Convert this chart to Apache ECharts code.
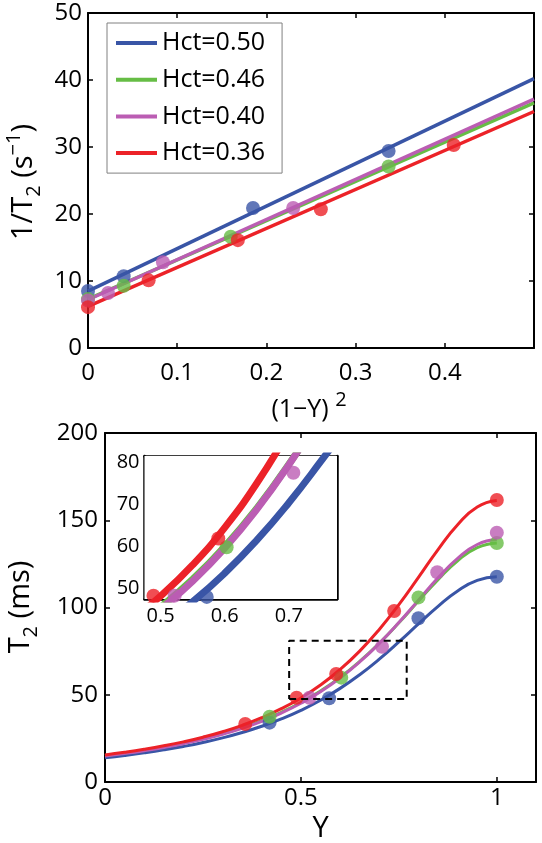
<!DOCTYPE html>
<html><head><meta charset="utf-8">
<script src="https://cdn.jsdelivr.net/npm/echarts@6/dist/echarts.min.js"></script>
<style>html,body{margin:0;padding:0;background:#fff}#c{width:542px;height:843px}</style>
</head><body><div id="c"></div>
<script>
const seriesNames = ['Hct=0.50', 'Hct=0.46', 'Hct=0.40', 'Hct=0.36'];
const colors = ['#3955a6', '#66bd45', '#bb5db3', '#ec2228'];

// ---- top panel: 1/T2 (s^-1) vs (1-Y)^2 ----
const fitX = [0, 0.5];
const fitBlue = [8.5, 40.2];
const fitGreen = [7.3, 36.6];
const fitPurple = [7.2, 37.15];
const fitRed = [6.2, 35.3];

const topBlue = [[0, 8.5], [0.040, 10.7], [0.185, 20.9], [0.337, 29.4]];
const topGreen = [[0, 7.3], [0.040, 9.3], [0.160, 16.6], [0.337, 27.1]];
const topPurple = [[0, 7.1], [0.0225, 8.2], [0.084, 12.8], [0.230, 20.9]];
const topRed = [[0, 6.1], [0.068, 10.1], [0.168, 16.1], [0.261, 20.7], [0.410, 30.3]];

// ---- bottom panel: T2 (ms) vs Y ----
const curveY = [0, 0.05, 0.1, 0.15, 0.2, 0.25, 0.3, 0.35, 0.4, 0.45, 0.5, 0.55, 0.6, 0.65, 0.7, 0.75, 0.8, 0.85, 0.9, 0.95, 1.0];
const curveBlue = [13.91, 15.22, 16.71, 18.41, 20.37, 22.64, 25.27, 28.34, 31.93, 36.13, 41.07, 46.86, 53.65, 61.48, 70.39, 80.26, 90.58, 100.7, 109.5, 115.5, 117.6];
const curveGreen = [15.17, 16.61, 18.26, 20.15, 22.32, 24.84, 27.77, 31.19, 35.21, 39.95, 45.56, 52.17, 59.96, 69.06, 79.53, 91.24, 103.7, 116.0, 126.8, 134.3, 137.0];
const curvePurple = [14.90, 16.32, 17.95, 19.81, 21.96, 24.46, 27.36, 30.76, 34.77, 39.49, 45.10, 51.73, 59.58, 68.79, 79.42, 91.37, 104.2, 117.0, 128.2, 136.1, 138.9];
const curveRed = [15.53, 17.03, 18.75, 20.73, 23.01, 25.68, 28.80, 32.48, 36.83, 42.00, 48.19, 55.59, 64.47, 75.02, 87.43, 101.65, 117.26, 133.2, 147.4, 157.6, 161.3];

const botBlue = [[0.42, 34.0], [0.572, 48.0], [0.80, 93.8], [1, 117.6]];
const botGreen = [[0.42, 37.4], [0.603, 59.8], [0.80, 105.8], [1, 137.0]];
const botPurple = [[0.522, 48.3], [0.707, 77.5], [0.848, 120.2], [1, 142.9]];
const botRed = [[0.358, 33.2], [0.489, 48.3], [0.59, 61.9], [0.738, 98.0], [1, 161.6]];

// zoom box (dashed) corners
const boxX = [0.47, 0.77, 0.77, 0.47, 0.47];
const boxY = [47.5, 47.5, 81, 81, 47.5];

// tick labels
const topXTicks = [0, 0.1, 0.2, 0.3, 0.4];
const topYTicks = [0, 10, 20, 30, 40, 50];
const botXTicks = [0, 0.5, 1];
const botYTicks = [0, 50, 100, 150, 200];
const insXTicks = [0.5, 0.6, 0.7];
const insYTicks = [50, 60, 70, 80];

const FONT = "'Open Sans', 'Liberation Sans', sans-serif";

function zip(xs, ys) { return xs.map((x, i) => [x, ys[i]]); }

function axis(grid, min, max, ticks, pos, showLabel, margin, fs, tickLen, lw) {
  return {
    type: 'value', gridIndex: grid, min: min, max: max, position: pos,
    axisLine: { show: true, onZero: false, lineStyle: { color: '#000', width: lw } },
    axisTick: { show: true, inside: true, length: tickLen, customValues: ticks, lineStyle: { color: '#000', width: 1.5 } },
    axisLabel: { show: showLabel, customValues: ticks, margin: margin, fontSize: fs, fontFamily: FONT, color: '#000' },
    splitLine: { show: false }
  };
}

const xAxes = [
  axis(0, 0, 0.5, topXTicks, 'bottom', true, 13, 24, 5, 2),
  axis(0, 0, 0.5, topXTicks, 'top', false, 0, 24, 5, 2),
  axis(1, 0, 1.1, botXTicks, 'bottom', true, 4, 24, 5, 2),
  axis(1, 0, 1.1, botXTicks, 'top', false, 0, 24, 5, 2),
  axis(2, 0.475, 0.775, insXTicks, 'bottom', true, 7, 20, 3, 2.5),
  axis(2, 0.475, 0.775, insXTicks, 'top', false, 0, 20, 3, 2.5)
];
const yAxes = [
  axis(0, 0, 50, topYTicks, 'left', true, 6, 24, 5, 2),
  axis(0, 0, 50, topYTicks, 'right', false, 0, 24, 5, 2),
  axis(1, 0, 200, botYTicks, 'left', true, 7, 24, 5, 2),
  axis(1, 0, 200, botYTicks, 'right', false, 0, 24, 5, 2),
  axis(2, 47.5, 81.5, insYTicks, 'left', true, 5, 20, 3, 2.5),
  axis(2, 47.5, 81.5, insYTicks, 'right', false, 0, 20, 3, 2.5)
];

const fits = [fitBlue, fitGreen, fitPurple, fitRed];
const topPts = [topBlue, topGreen, topPurple, topRed];
const curves = [curveBlue, curveGreen, curvePurple, curveRed];
const botPts = [botBlue, botGreen, botPurple, botRed];

const series = [];
for (let i = 0; i < 4; i++) {
  series.push({ type: 'line', name: seriesNames[i], xAxisIndex: 0, yAxisIndex: 0, data: zip(fitX, fits[i]),
    showSymbol: false, lineStyle: { color: colors[i], width: 3.5 }, itemStyle: { color: colors[i] }, z: 2 });
}
for (let i = 0; i < 4; i++) {
  series.push({ type: 'scatter', name: seriesNames[i], xAxisIndex: 0, yAxisIndex: 0, data: topPts[i],
    symbol: 'circle', symbolSize: 14, itemStyle: { color: colors[i] }, z: 3 });
}
for (let i = 0; i < 4; i++) {
  series.push({ type: 'line', name: seriesNames[i], xAxisIndex: 2, yAxisIndex: 2, data: zip(curveY, curves[i]),
    showSymbol: false, smooth: true, lineStyle: { color: colors[i], width: 3 }, itemStyle: { color: colors[i] }, z: 2 });
}
for (let i = 0; i < 4; i++) {
  series.push({ type: 'scatter', name: seriesNames[i], xAxisIndex: 2, yAxisIndex: 2, data: botPts[i],
    symbol: 'circle', symbolSize: 14, itemStyle: { color: colors[i] }, z: 3 });
}
series.push({ type: 'line', name: 'zoom', xAxisIndex: 2, yAxisIndex: 2, data: zip(boxX, boxY), showSymbol: false,
  lineStyle: { color: '#000', width: 2, type: [7, 5] }, z: 4 });
for (let i = 0; i < 4; i++) {
  series.push({ type: 'line', name: seriesNames[i], xAxisIndex: 4, yAxisIndex: 4, data: zip(curveY, curves[i]),
    showSymbol: false, smooth: true, clip: true, lineStyle: { color: colors[i], width: 7 }, itemStyle: { color: colors[i] }, z: 5 });
}
for (let i = 0; i < 4; i++) {
  series.push({ type: 'scatter', name: seriesNames[i], xAxisIndex: 4, yAxisIndex: 4, data: botPts[i], clip: true,
    symbol: 'circle', symbolSize: 14, itemStyle: { color: colors[i] }, z: 6 });
}

const richBase = { fontFamily: FONT, color: '#000' };
const chart = echarts.init(document.getElementById('c'), null, { renderer: 'canvas' });
chart.setOption({
  animation: false,
  backgroundColor: '#fff',
  grid: [
    { left: 88, top: 13, width: 446, height: 335, outerBoundsMode: 'none', containLabel: false },
    { left: 105, top: 433, width: 431, height: 349, outerBoundsMode: 'none', containLabel: false },
    { left: 144.5, top: 456, width: 192.5, height: 143, outerBoundsMode: 'none', containLabel: false, show: true, backgroundColor: '#fff', borderWidth: 0, z: 4 }
  ],
  xAxis: xAxes,
  yAxis: yAxes,
  legend: {
    data: seriesNames, orient: 'vertical', left: 107, top: 23, padding: [6, 17, 6, 9],
    itemGap: 8.7, itemWidth: 41, itemHeight: 4, icon: 'rect',
    borderColor: '#808080', borderWidth: 1, backgroundColor: '#fff', selectedMode: false,
    textStyle: { fontFamily: FONT, fontSize: 25, color: '#000', lineHeight: 28 }
  },
  graphic: [
    { type: 'text', x: 24, y: 182, rotation: Math.PI / 2, z: 10,
      style: { text: '{a|1/T}{b|2}{a| (s}{c|−1}{a|)}', align: 'center', verticalAlign: 'middle', textAlign: 'center', textVerticalAlign: 'middle',
        rich: { a: Object.assign({ fontSize: 29, lineHeight: 40, verticalAlign: 'middle' }, richBase),
                b: Object.assign({ fontSize: 20, lineHeight: 20, verticalAlign: 'bottom' }, richBase),
                c: Object.assign({ fontSize: 20, lineHeight: 20, verticalAlign: 'top' }, richBase) } } },
    { type: 'text', x: 309, y: 410, z: 10,
      style: { text: '{a|(1−Y) }{c|2}', align: 'center', verticalAlign: 'middle', textAlign: 'center', textVerticalAlign: 'middle',
        rich: { a: Object.assign({ fontSize: 25, lineHeight: 40, verticalAlign: 'middle' }, richBase),
                c: Object.assign({ fontSize: 20, lineHeight: 20, verticalAlign: 'top' }, richBase) } } },
    { type: 'text', x: 21, y: 607, rotation: Math.PI / 2, z: 10,
      style: { text: '{a|T}{b|2}{a| (ms)}', align: 'center', verticalAlign: 'middle', textAlign: 'center', textVerticalAlign: 'middle',
        rich: { a: Object.assign({ fontSize: 29, lineHeight: 40, verticalAlign: 'middle' }, richBase),
                b: Object.assign({ fontSize: 20, lineHeight: 20, verticalAlign: 'bottom' }, richBase) } } },
    { type: 'text', x: 320.5, y: 829, z: 10,
      style: { text: 'Y', font: '29px ' + FONT, fill: '#000', align: 'center', verticalAlign: 'middle', textAlign: 'center', textVerticalAlign: 'middle' } }
  ],
  series: series
});
</script>
</body></html>
